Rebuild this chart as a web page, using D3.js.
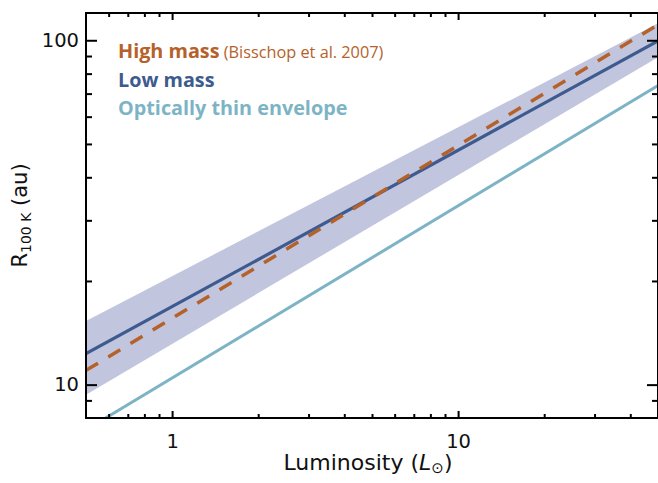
<!DOCTYPE html>
<html>
<head>
<meta charset="utf-8">
<script src="https://cdn.jsdelivr.net/npm/d3@7/dist/d3.min.js"></script>
<style>
  html, body { margin: 0; padding: 0; background: #fff; }
  svg { display: block; }
</style>
</head>
<body>
<svg id="chart" width="658" height="483"></svg>
<script>
// Luminosity endpoints (L_sun) used for every power-law line
const lum = [0.5, 50];
// Radius of the 100 K point (au) at those luminosities
const highMass = [11.0, 111];       // Bisschop et al. 2007
const lowMass = [12.3, 99.5];
const lowMassUpper = [15.3, 112];
const lowMassLower = [9.35, 89.3];
const opticallyThin = [7.39, 73.9];

// Axis ticks
const xMajor = [1, 10];
const xMinor = [0.6, 0.7, 0.8, 0.9, 2, 3, 4, 5, 6, 7, 8, 9, 20, 30, 40];
const yMajor = [10, 100];
const yMinor = [9, 20, 30, 40, 50, 60, 70, 80, 90];

const legendItems = [
  { label: "High mass", note: " (Bisschop et al. 2007)", color: "#b5612a" },
  { label: "Low mass", note: "", color: "#3d5b8f" },
  { label: "Optically thin envelope", note: "", color: "#7db4c5" }
];

const svg = d3.select("#chart");
const plotLeft = 86, plotRight = 658, plotTop = 13, plotBottom = 418;

const x = d3.scaleLog().domain([0.5, 50]).range([plotLeft, plotRight]);
const y = d3.scaleLog().domain([8, 120]).range([plotBottom, plotTop]);

svg.append("defs").append("clipPath").attr("id", "plot-clip")
  .append("rect").attr("x", plotLeft).attr("y", plotTop)
  .attr("width", plotRight - plotLeft).attr("height", plotBottom - plotTop);

const plot = svg.append("g").attr("clip-path", "url(#plot-clip)");

// Low-mass uncertainty band
const bandData = lum.map((l, i) => ({ l, lo: lowMassLower[i], hi: lowMassUpper[i] }));
plot.append("path")
  .datum(bandData)
  .attr("fill", "#c2c5de")
  .attr("d", d3.area().x(d => x(d.l)).y0(d => y(d.lo)).y1(d => y(d.hi)));

const line = d3.line().x(d => x(d[0])).y(d => y(d[1]));
const pts = vals => lum.map((l, i) => [l, vals[i]]);

plot.append("path").datum(pts(opticallyThin))
  .attr("fill", "none").attr("stroke", "#7db4c5").attr("stroke-width", 3)
  .attr("d", line);

plot.append("path").datum(pts(lowMass))
  .attr("fill", "none").attr("stroke", "#3d5b8f").attr("stroke-width", 3.2)
  .attr("d", line);

plot.append("path").datum(pts(highMass))
  .attr("fill", "none").attr("stroke", "#b5612a").attr("stroke-width", 3.5)
  .attr("stroke-dasharray", "14,12")
  .attr("d", line);

// Axes: ticks point inward on all four sides
const tickFont = "'DejaVu Sans', sans-serif";
function styleAxis(g) {
  g.select(".domain").remove();
  g.selectAll(".tick line").attr("stroke", "#000").attr("stroke-width", 2);
  g.selectAll("text").attr("font-family", tickFont).attr("font-size", 19.5).attr("fill", "#111");
}

const fmt = d => String(d);

svg.append("g").attr("transform", `translate(0,${plotBottom})`)
  .call(d3.axisBottom(x).tickValues(xMajor).tickSize(-7).tickPadding(16).tickFormat(fmt))
  .call(styleAxis);
svg.append("g").attr("transform", `translate(0,${plotBottom})`)
  .call(d3.axisBottom(x).tickValues(xMinor).tickSize(-4).tickFormat(""))
  .call(styleAxis);
svg.append("g").attr("transform", `translate(0,${plotTop})`)
  .call(d3.axisTop(x).tickValues(xMajor).tickSize(-7).tickFormat(""))
  .call(styleAxis);
svg.append("g").attr("transform", `translate(0,${plotTop})`)
  .call(d3.axisTop(x).tickValues(xMinor).tickSize(-4).tickFormat(""))
  .call(styleAxis);

svg.append("g").attr("transform", `translate(${plotLeft},0)`)
  .call(d3.axisLeft(y).tickValues(yMajor).tickSize(-11).tickPadding(7).tickFormat(fmt))
  .call(styleAxis);
svg.append("g").attr("transform", `translate(${plotLeft},0)`)
  .call(d3.axisLeft(y).tickValues(yMinor).tickSize(-6).tickFormat(""))
  .call(styleAxis);
svg.append("g").attr("transform", `translate(${plotRight},0)`)
  .call(d3.axisRight(y).tickValues(yMajor).tickSize(-11).tickFormat(""))
  .call(styleAxis);
svg.append("g").attr("transform", `translate(${plotRight},0)`)
  .call(d3.axisRight(y).tickValues(yMinor).tickSize(-6).tickFormat(""))
  .call(styleAxis);

// Frame
svg.append("rect")
  .attr("x", plotLeft).attr("y", plotTop)
  .attr("width", plotRight - plotLeft).attr("height", plotBottom - plotTop)
  .attr("fill", "none").attr("stroke", "#000").attr("stroke-width", 2);

// Axis titles
const xt = svg.append("text")
  .attr("x", 368).attr("y", 470)
  .attr("text-anchor", "middle")
  .attr("font-family", tickFont).attr("font-size", 22).attr("fill", "#111");
xt.append("tspan").text("Luminosity (");
xt.append("tspan").attr("font-style", "italic").text("L");
xt.append("tspan").attr("font-size", 15).attr("dy", 3).text("\u2299");
xt.append("tspan").attr("dy", -3).text(")");

const yt = svg.append("text")
  .attr("transform", `translate(27,${(plotTop + plotBottom) / 2}) rotate(-90)`)
  .attr("text-anchor", "middle")
  .attr("font-family", tickFont).attr("font-size", 21).attr("fill", "#111");
yt.append("tspan").text("R");
yt.append("tspan").attr("font-size", 14).attr("dy", 4).text("100 K");
yt.append("tspan").attr("dy", -4).text(" (au)");

// Legend
const legend = svg.append("g");
legendItems.forEach((d, i) => {
  const t = legend.append("text")
    .attr("x", 118).attr("y", 58 + i * 28.5)
    .attr("font-family", "'Open Sans', sans-serif")
    .attr("font-size", 19.8).attr("fill", d.color);
  t.append("tspan").attr("font-weight", 700).text(d.label);
  if (d.note) t.append("tspan").attr("font-weight", 400).attr("font-size", 16.3).text(d.note);
});
</script>
</body>
</html>
